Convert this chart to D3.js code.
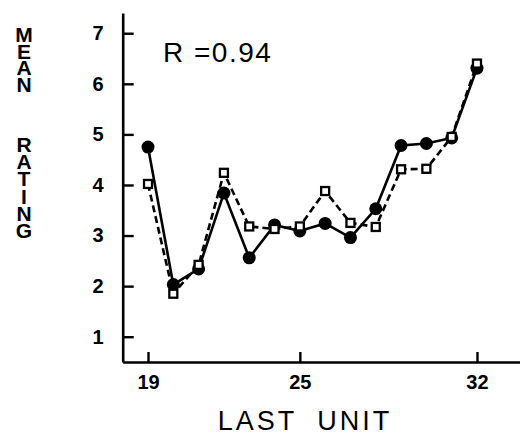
<!DOCTYPE html>
<html>
<head>
<meta charset="utf-8">
<script src="https://cdn.jsdelivr.net/npm/d3@7"></script>
<style>
  body { margin: 0; background: #fff; }
  svg { display: block; font-family: "Liberation Sans", Arial, sans-serif; }
  .tick text { font-size: 20px; font-weight: bold; fill: #000; }
</style>
</head>
<body>
<div id="chart"></div>
<script>
const units = [19, 20, 21, 22, 23, 24, 25, 26, 27, 28, 29, 30, 31, 32];
const circleValues = [4.75, 2.03, 2.34, 3.84, 2.56, 3.21, 3.09, 3.24, 2.96, 3.53, 4.78, 4.82, 4.93, 6.31];
const squareValues = [4.02, 1.85, 2.42, 4.24, 3.18, 3.13, 3.18, 3.88, 3.25, 3.17, 4.31, 4.32, 4.95, 6.40];
const xTicks = [19, 25, 32];
const yTicks = [1, 2, 3, 4, 5, 6, 7];

const W = 520, H = 435;

const x = d3.scaleLinear().domain([18, 33.7]).range([122.7, 520]);
const y = d3.scaleLinear().domain([0.5, 7.4]).range([362, 13]);

const svg = d3.select("#chart").append("svg")
    .attr("width", W)
    .attr("height", H);

// axes, ticks point inward
const xAxis = svg.append("g")
    .attr("transform", `translate(0,${y(0.5)})`)
    .call(d3.axisBottom(x).tickValues(xTicks).tickFormat(d3.format("d"))
        .tickSize(-10).tickSizeOuter(0).tickPadding(13));

const yAxis = svg.append("g")
    .attr("transform", `translate(${x(18)},0)`)
    .call(d3.axisLeft(y).tickValues(yTicks).tickFormat(d3.format("d"))
        .tickSize(-11).tickSizeOuter(0).tickPadding(19));

[xAxis, yAxis].forEach(g => {
    g.select(".domain").attr("stroke", "#000").attr("stroke-width", 2.6);
    g.selectAll(".tick line").attr("stroke", "#000").attr("stroke-width", 2.4);
});

// y label, stacked letters
const yLab = svg.append("text")
    .attr("text-anchor", "middle")
    .style("font-size", "21px")
    .style("font-weight", "bold");
"MEAN".split("").forEach((c, i) => {
    yLab.append("tspan").attr("x", 24).attr("y", 42 + i * 16.6).text(c);
});
"RATING".split("").forEach((c, i) => {
    yLab.append("tspan").attr("x", 24).attr("y", 152 + i * 17.2).text(c);
});

// x label
svg.append("text")
    .attr("x", 305)
    .attr("y", 430)
    .attr("text-anchor", "middle")
    .style("font-size", "27px")
    .style("letter-spacing", "3px")
    .style("word-spacing", "10px")
    .text("LAST UNIT");

svg.append("text")
    .attr("x", 163)
    .attr("y", 62)
    .style("font-size", "28px")
    .style("letter-spacing", "1.5px")
    .text("R =0.94");

const circles = units.map((u, i) => ({ u: u, v: circleValues[i] }));
const squares = units.map((u, i) => ({ u: u, v: squareValues[i] }));

const line = d3.line().x(d => x(d.u)).y(d => y(d.v));

svg.append("path")
    .datum(squares)
    .attr("fill", "none")
    .attr("stroke", "#000")
    .attr("stroke-width", 2.6)
    .attr("stroke-dasharray", "7,4")
    .attr("d", line);

svg.append("path")
    .datum(circles)
    .attr("fill", "none")
    .attr("stroke", "#000")
    .attr("stroke-width", 2.6)
    .attr("d", line);

svg.selectAll(".dot")
    .data(circles)
    .enter()
    .append("circle")
    .attr("class", "dot")
    .attr("cx", d => x(d.u))
    .attr("cy", d => y(d.v))
    .attr("r", 6.5)
    .attr("fill", "#000");

const s = 8;
svg.selectAll(".sq")
    .data(squares)
    .enter()
    .append("rect")
    .attr("class", "sq")
    .attr("x", d => x(d.u) - s / 2)
    .attr("y", d => y(d.v) - s / 2)
    .attr("width", s)
    .attr("height", s)
    .attr("fill", "#fff")
    .attr("stroke", "#000")
    .attr("stroke-width", 2.3);
</script>
</body>
</html>
